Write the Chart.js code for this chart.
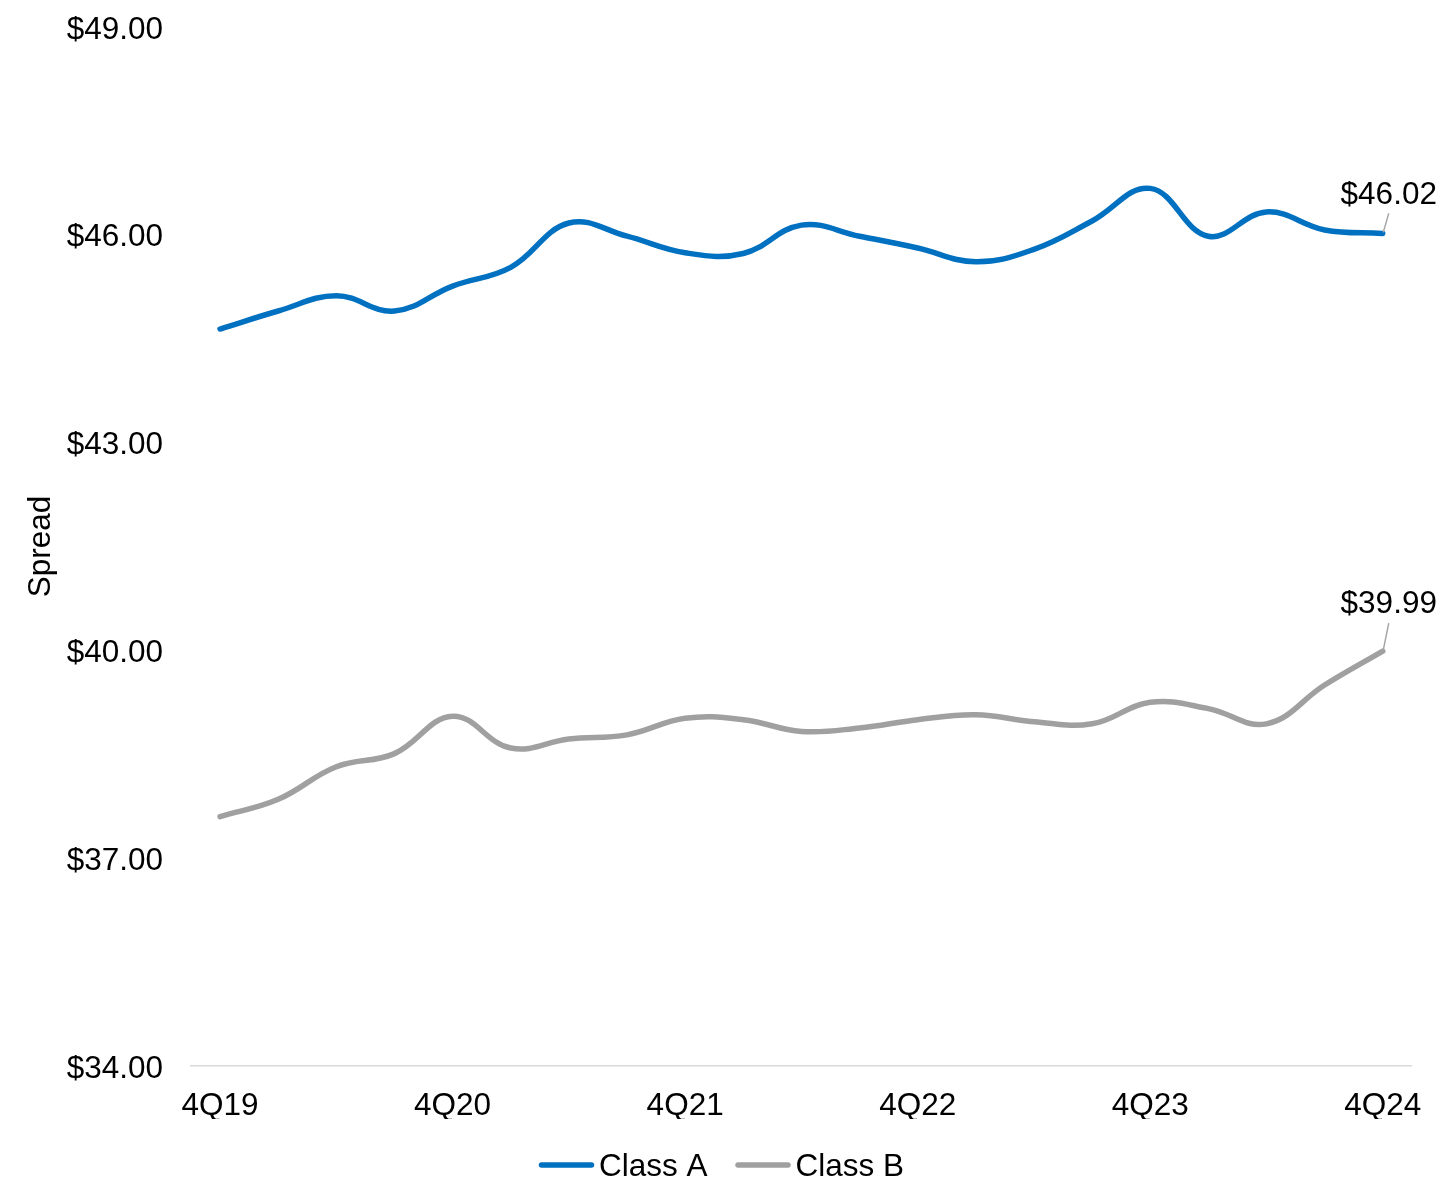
<!DOCTYPE html>
<html>
<head>
<meta charset="utf-8">
<script src="https://cdn.jsdelivr.net/npm/chart.js@4.4.1/dist/chart.umd.min.js"></script>
<style>
  html, body { margin: 0; padding: 0; background: #ffffff; }
  #wrap { width: 1443px; height: 1179px; position: relative; }
</style>
</head>
<body>
<div id="wrap"><canvas id="c"></canvas></div>
<script>
const quarters = ['4Q19','1Q20','2Q20','3Q20','4Q20','1Q21','2Q21','3Q21','4Q21','1Q22','2Q22','3Q22','4Q22','1Q23','2Q23','3Q23','4Q23','1Q24','2Q24','3Q24','4Q24'];
const classA = [44.64, 44.90, 45.12, 44.90, 45.26, 45.53, 46.17, 45.98, 45.74, 45.73, 46.14, 45.98, 45.81, 45.61, 45.79, 46.20, 46.67, 45.98, 46.33, 46.07, 46.02];
const classB = [37.60, 37.85, 38.32, 38.51, 39.05, 38.59, 38.72, 38.78, 39.02, 39.00, 38.83, 38.88, 39.00, 39.07, 38.97, 38.94, 39.25, 39.16, 38.94, 39.50, 39.99];
const seriesNames = ['Class A', 'Class B'];
const yTicks = [34, 37, 40, 43, 46, 49];
const yTitle = 'Spread';

const FONT = '"Liberation Sans", Arial, sans-serif';
const FS = 31.5;
const BLUE = '#0070C0';
const GRAY = '#A0A0A0';

const fmt = v => '$' + Number(v).toFixed(2);

const endLabels = {
  id: 'endLabels',
  afterDatasetsDraw(chart, args, opts) {
    const ctx = chart.ctx;
    chart.data.datasets.forEach((ds, i) => {
      const cfg = opts.items[i];
      if (!cfg) return;
      const meta = chart.getDatasetMeta(i);
      const last = meta.data[meta.data.length - 1];
      const v = ds.data[ds.data.length - 1];
      ctx.save();
      ctx.strokeStyle = '#A6A6A6';
      ctx.lineWidth = 1.5;
      ctx.beginPath();
      ctx.moveTo(last.x + 0.5, last.y - 1);
      ctx.lineTo(last.x + cfg.leader[0], last.y + cfg.leader[1]);
      ctx.stroke();
      ctx.fillStyle = '#000000';
      ctx.font = FS + 'px ' + FONT;
      ctx.textAlign = 'center';
      ctx.textBaseline = 'alphabetic';
      ctx.fillText(fmt(v), last.x + cfg.text[0], last.y + cfg.text[1]);
      ctx.restore();
    });
  }
};

const lineLegend = {
  id: 'lineLegend',
  afterDraw(chart, args, opts) {
    const ctx = chart.ctx;
    ctx.save();
    ctx.font = FS + 'px ' + FONT;
    const items = chart.data.datasets.map(ds => ({
      text: ds.label, color: ds.borderColor, w: ctx.measureText(ds.label).width
    }));
    const lineW = 55, gap = 5, spacing = 28;
    let total = 0;
    items.forEach((it, k) => { total += lineW + gap + it.w + (k ? spacing : 0); });
    let x = chart.width / 2 - total / 2;
    const y = opts.y;
    items.forEach((it, k) => {
      if (k) x += spacing;
      ctx.strokeStyle = it.color;
      ctx.lineWidth = 5.5;
      ctx.lineCap = 'round';
      ctx.beginPath();
      ctx.moveTo(x + 2.5, y);
      ctx.lineTo(x + lineW - 2.5, y);
      ctx.stroke();
      x += lineW + gap;
      ctx.fillStyle = '#000000';
      ctx.textAlign = 'left';
      ctx.textBaseline = 'alphabetic';
      ctx.fillText(it.text, x, y + 10.5);
      x += it.w;
    });
    ctx.restore();
  }
};

new Chart(document.getElementById('c'), {
  type: 'line',
  data: {
    labels: quarters,
    datasets: [
      { label: seriesNames[0], data: classA, borderColor: BLUE, backgroundColor: BLUE },
      { label: seriesNames[1], data: classB, borderColor: GRAY, backgroundColor: GRAY }
    ]
  },
  options: {
    responsive: true,
    maintainAspectRatio: false,
    animation: false,
    devicePixelRatio: 1,
    layout: { padding: { left: 0, right: 30, top: 27, bottom: 60 } },
    elements: {
      line: { borderWidth: 5.5, tension: 0.4, borderCapStyle: 'round', borderJoinStyle: 'round', fill: false },
      point: { radius: 0, hoverRadius: 0 }
    },
    scales: {
      x: {
        type: 'category',
        offset: true,
        grid: { display: false, drawTicks: false },
        border: { display: true, color: '#D9D9D9', width: 1.5 },
        ticks: {
          autoSkip: false,
          maxRotation: 0,
          padding: 21,
          color: '#000000',
          font: { family: FONT, size: FS },
          callback: function(val, idx) { return idx % 4 === 0 ? this.getLabelForValue(val) : ''; }
        },
        afterFit: s => { s.height = 53; }
      },
      y: {
        min: 34,
        max: 49,
        grid: { display: false, drawTicks: false },
        border: { display: false },
        afterBuildTicks: s => { s.ticks = yTicks.map(v => ({ value: v })); },
        ticks: {
          padding: 28,
          labelOffset: 3,
          color: '#000000',
          font: { family: FONT, size: FS },
          callback: v => fmt(v)
        },
        title: {
          display: true,
          text: yTitle,
          color: '#000000',
          font: { family: FONT, size: FS },
          padding: { top: 22, bottom: 0 }
        },
        afterFit: s => { s.width = 191; s.paddingTop = 0; s.paddingBottom = 0; }
      }
    },
    plugins: {
      legend: { display: false },
      tooltip: { enabled: false },
      endLabels: { items: [ { leader: [6, -20], text: [6, -29] }, { leader: [6, -28], text: [6, -38] } ] },
      lineLegend: { y: 1165 }
    }
  },
  plugins: [endLabels, lineLegend]
});
</script>
</body>
</html>
